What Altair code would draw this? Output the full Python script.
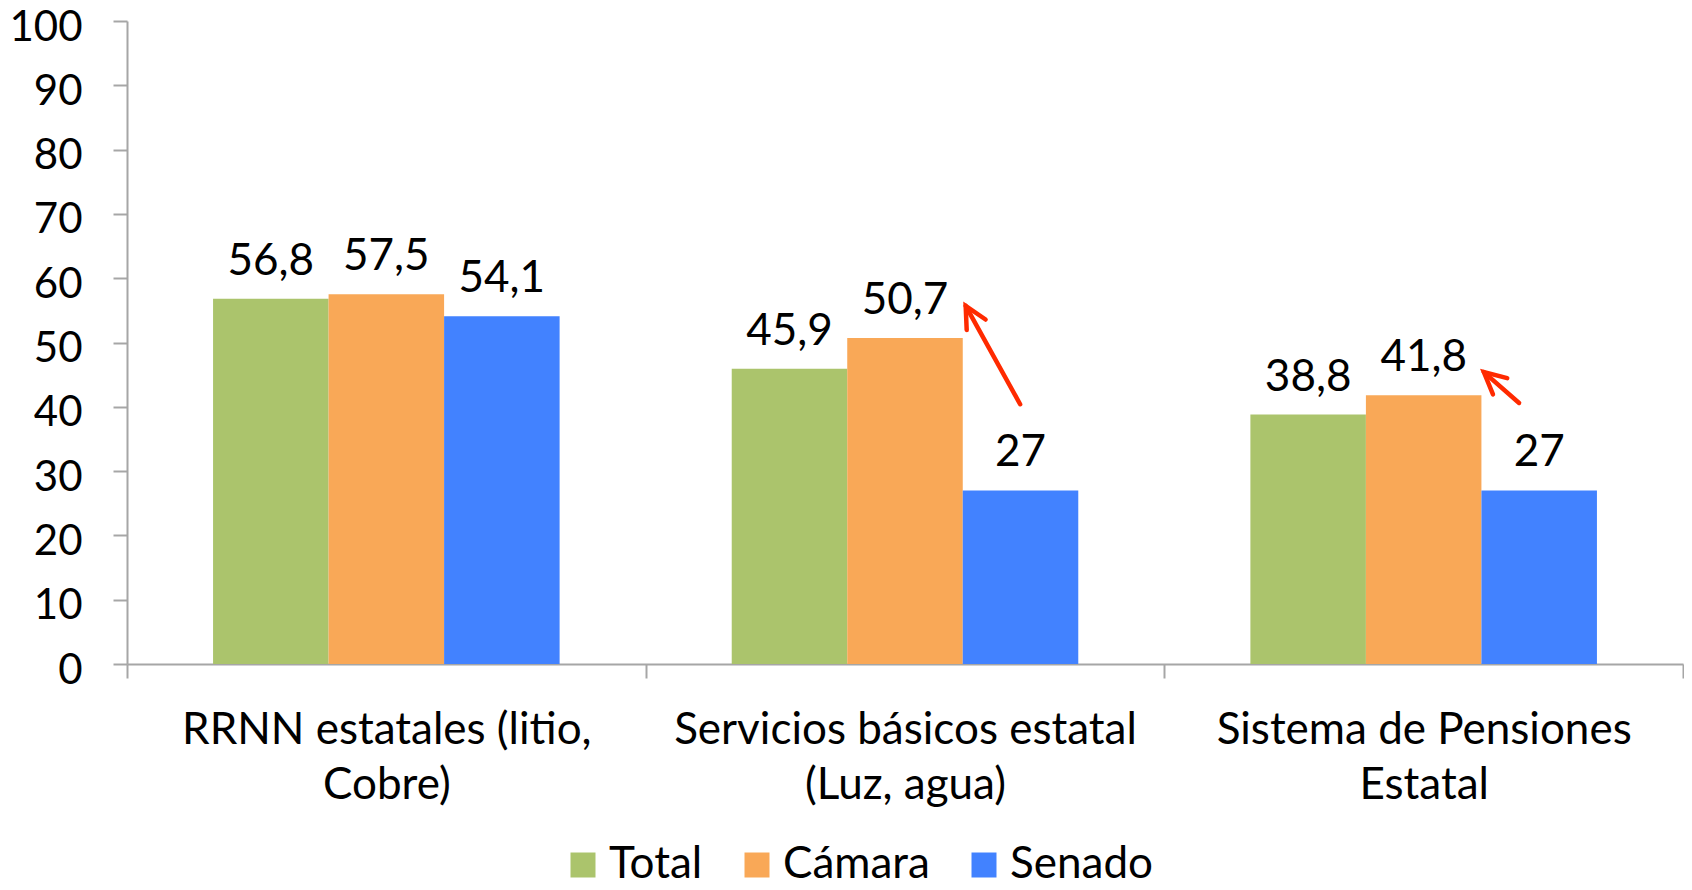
import math
import altair as alt
import pandas as pd

# ---- data ----
categories = ["RRNN estatales (litio,|Cobre)",
              "Servicios básicos estatal|(Luz, agua)",
              "Sistema de Pensiones|Estatal"]
series = ["Total", "Cámara", "Senado"]
total = [56.8, 45.9, 38.8]
camara = [57.5, 50.7, 41.8]
senado = [54.1, 27, 27]
colors = ["#ABC46C", "#F9A857", "#4282FF"]

# red annotation arrows (x in category-index units 0..3, y in data units)
arrow_x_tail = [1.722, 2.684]
arrow_y_tail = [40.4, 40.6]
arrow_x_head = [1.617, 2.616]
arrow_y_head = [55.7, 45.4]

# ---- layout ----
W, H = 1556, 643
FONT = "Lato"
GRAY = "#A6A6A6"
RED = "#FF2A00"

rows = []
for s, vals in zip(series, [total, camara, senado]):
    for c, v in zip(categories, vals):
        rows.append({"cat": c, "serie": s, "valor": v,
                     "label": f"{v:g}".replace(".", ",")})
df = pd.DataFrame(rows)

px_x = W / 3.0
px_y = H / 100.0
angles = []
for xt, yt, xh, yh in zip(arrow_x_tail, arrow_y_tail, arrow_x_head, arrow_y_head):
    dx = (xh - xt) * px_x
    dy = -(yh - yt) * px_y
    angles.append(math.degrees(math.atan2(dx, -dy)) % 360)
arrows = pd.DataFrame({"xt": arrow_x_tail, "yt": arrow_y_tail,
                       "xh": arrow_x_head, "yh": arrow_y_head, "ang": angles})

yscale = alt.Scale(domain=[0, 100], nice=False)
yaxis = alt.Axis(title=None, values=list(range(0, 101, 10)),
                 labelFont=FONT, labelFontSize=42, labelColor="black",
                 labelPadding=31, labelOffset=6, tickSize=14,
                 tickColor=GRAY, tickWidth=2, domainColor=GRAY,
                 domainWidth=2, grid=False)
xscale = alt.Scale(paddingInner=0, paddingOuter=0)
xaxis = alt.Axis(title=None, labelExpr="split(datum.label, '|')",
                 labelAngle=0, labelFont=FONT, labelFontSize=44,
                 labelColor="black", labelLineHeight=55,
                 labelBaseline="top", labelPadding=30,
                 labelLimit=800, labelOverlap=False,
                 tickBand="extent", tickSize=14, tickColor=GRAY,
                 tickWidth=2, domainColor=GRAY, domainWidth=2)
xoff = alt.XOffset("serie:N", sort=series,
                   scale=alt.Scale(paddingInner=0, paddingOuter=0.745))

bars = alt.Chart(df).mark_bar().encode(
    x=alt.X("cat:N", sort=categories, scale=xscale, axis=xaxis),
    xOffset=xoff,
    y=alt.Y("valor:Q", scale=yscale, axis=yaxis),
    color=alt.Color("serie:N", sort=series,
                    scale=alt.Scale(domain=series, range=colors),
                    legend=alt.Legend(title=None, orient="none", legendX=434,
                                      legendY=822, direction="horizontal",
                                      symbolType="square", symbolSize=625,
                                      symbolStrokeWidth=0, symbolOpacity=1,
                                      labelFont=FONT, labelFontSize=44,
                                      labelColor="black", columnPadding=32,
                                      labelOffset=4, labelLimit=400)),
)

texts = alt.Chart(df).mark_text(baseline="alphabetic", dy=-24, fontSize=44,
                                font=FONT, color="black").encode(
    x=alt.X("cat:N", sort=categories, scale=xscale, axis=xaxis),
    xOffset=xoff,
    y=alt.Y("valor:Q", scale=yscale, axis=yaxis),
    text="label:N",
)

xq = alt.Scale(domain=[0, 3], nice=False, zero=False)
rule = alt.Chart(arrows).mark_rule(color=RED, strokeWidth=4.5, strokeCap="round").encode(
    x=alt.X("xt:Q", scale=xq, axis=None),
    x2="xh:Q",
    y=alt.Y("yt:Q", scale=yscale, axis=yaxis),
    y2="yh:Q",
)
head = alt.Chart(arrows).mark_point(shape="M -0.45 0.9 L 0 0 L 0.45 0.9",
                                    filled=False, size=2304, strokeWidth=4.5,
                                    color=RED, opacity=1, strokeCap="round",
                                    strokeJoin="miter").encode(
    x=alt.X("xh:Q", scale=xq, axis=None),
    y=alt.Y("yh:Q", scale=yscale, axis=yaxis),
    angle=alt.Angle("ang:Q", scale=None),
)

chart = alt.layer(alt.layer(bars, texts), alt.layer(rule, head)).resolve_scale(
    x="independent"
).properties(
    width=W, height=H, autosize="none",
    padding={"left": 119, "top": 13, "right": 1, "bottom": 218},
    background="white",
).configure_view(stroke=None)

chart.save("out.html", embed_options={"renderer": "svg", "actions": False})
